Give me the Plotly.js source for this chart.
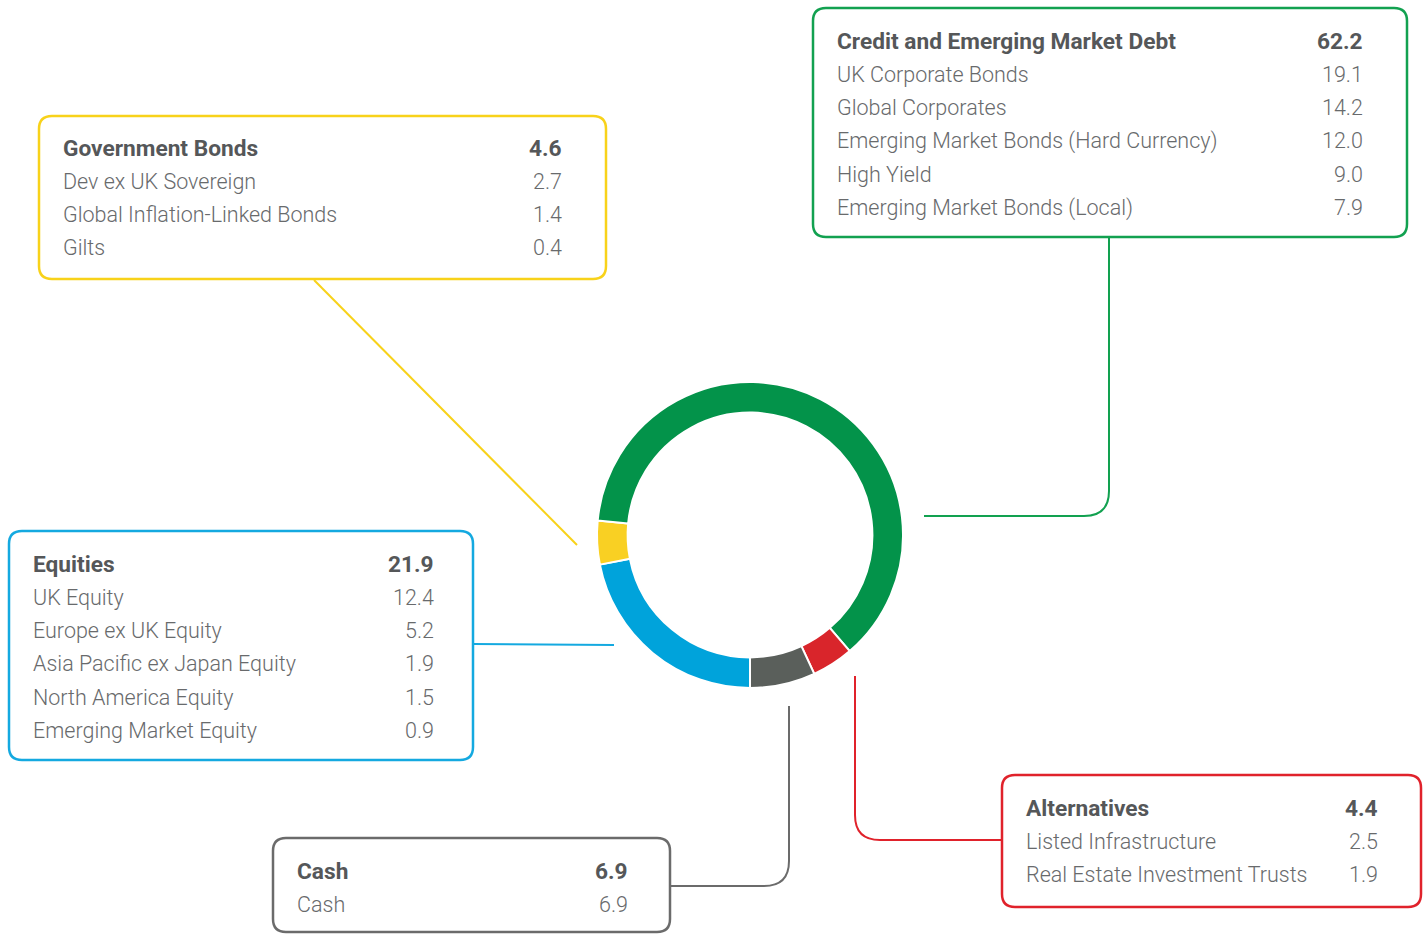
<!DOCTYPE html>
<html>
<head>
<meta charset="utf-8">
<script src="https://cdn.plot.ly/plotly-3.0.1.min.js"></script>
<style>html,body{margin:0;padding:0;background:#fff;}#chart{width:1423px;height:934px;}</style>
</head>
<body>
<div id="chart"></div>
<script>
// ---- Data ----
const groups = ["Equities", "Government Bonds", "Credit and Emerging Market Debt", "Alternatives", "Cash"];
const groupValues = [21.9, 4.6, 62.2, 4.4, 6.9];

const equitiesItems = ["UK Equity", "Europe ex UK Equity", "Asia Pacific ex Japan Equity", "North America Equity", "Emerging Market Equity"];
const equitiesValues = [12.4, 5.2, 1.9, 1.5, 0.9];

const govItems = ["Dev ex UK Sovereign", "Global Inflation-Linked Bonds", "Gilts"];
const govValues = [2.7, 1.4, 0.4];

const creditItems = ["UK Corporate Bonds", "Global Corporates", "Emerging Market Bonds (Hard Currency)", "High Yield", "Emerging Market Bonds (Local)"];
const creditValues = [19.1, 14.2, 12.0, 9.0, 7.9];

const altItems = ["Listed Infrastructure", "Real Estate Investment Trusts"];
const altValues = [2.5, 1.9];

const cashItems = ["Cash"];
const cashValues = [6.9];

// ---- Styles / layout ----
const colors = ["#00A3DB", "#F9D023", "#03934A", "#D9252B", "#5A5F5B"];
const borderColors = ["#14A9E0", "#F8D21A", "#12A150", "#E0222B", "#6B6B6B"];
const W = 1423, H = 934;

const boxes = [
  {items: equitiesItems, values: equitiesValues, box: [9, 531, 473, 760], tx: 33, vx: 433, y0: 564},
  {items: govItems, values: govValues, box: [39, 116, 606, 279], tx: 63, vx: 561, y0: 148},
  {items: creditItems, values: creditValues, box: [813, 8, 1407, 237], tx: 837, vx: 1362, y0: 41},
  {items: altItems, values: altValues, box: [1002, 775, 1421, 907], tx: 1026, vx: 1377, y0: 808},
  {items: cashItems, values: cashValues, box: [273, 838, 670, 932], tx: 297, vx: 627, y0: 871}
];
const rowStep = 33.3;
const pad = 2.5;

const connectors = [
  "M473,644 L614,645",
  "M314,280 L577,545",
  "M1109,237 L1109,491 Q1109,516 1084,516 L924,516",
  "M855,676 L855,815 Q855,840 880,840 L1002,840",
  "M789,706 L789,861 Q789,886 764,886 L670,886"
];

function rr(x0, y0, x1, y1, r) {
  return `M${x0 + r},${y0} L${x1 - r},${y0} Q${x1},${y0} ${x1},${y0 + r} L${x1},${y1 - r} Q${x1},${y1} ${x1 - r},${y1} L${x0 + r},${y1} Q${x0},${y1} ${x0},${y1 - r} L${x0},${y0 + r} Q${x0},${y0} ${x0 + r},${y0} Z`;
}

const shapes = [];
const annotations = [];
const FONT = "Roboto, 'Liberation Sans', sans-serif";
const headFont = {family: FONT, size: 22.7, color: "#555759", weight: 700};
const rowFont = {family: FONT, size: 21.5, color: "#686a6c", weight: 300};

boxes.forEach((b, i) => {
  const [x0, y0, x1, y1] = b.box;
  shapes.push({type: "path", xref: "x", yref: "y", path: rr(x0, y0, x1, y1, 13),
    line: {color: borderColors[i], width: 2.5}, fillcolor: "rgba(0,0,0,0)", layer: "above"});
  shapes.push({type: "path", xref: "x", yref: "y", path: connectors[i],
    line: {color: borderColors[i], width: 2}, layer: "below"});
  annotations.push({xref: "x", yref: "y", x: b.tx - pad, y: b.y0, text: groups[i], showarrow: false,
    xanchor: "left", yanchor: "middle", font: headFont});
  annotations.push({xref: "x", yref: "y", x: b.vx + pad, y: b.y0, text: groupValues[i].toFixed(1), showarrow: false,
    xanchor: "right", yanchor: "middle", font: headFont});
  b.items.forEach((it, k) => {
    const y = b.y0 + rowStep * (k + 1);
    annotations.push({xref: "x", yref: "y", x: b.tx - pad, y: y, text: it, showarrow: false,
      xanchor: "left", yanchor: "middle", font: rowFont});
    annotations.push({xref: "x", yref: "y", x: b.vx + pad, y: y, text: b.values[k].toFixed(1), showarrow: false,
      xanchor: "right", yanchor: "middle", font: rowFont});
  });
});

const cx = 750, cy = 535, R = 153;
const pie = {
  type: "pie",
  labels: groups,
  values: groupValues,
  hole: 0.80,
  sort: false,
  direction: "clockwise",
  rotation: 180,
  textinfo: "none",
  hoverinfo: "label+value",
  marker: {colors: colors, line: {color: "#ffffff", width: 2}},
  domain: {x: [(cx - R) / W, (cx + R) / W], y: [(H - cy - R) / H, (H - cy + R) / H]},
  showlegend: false
};

const layout = {
  width: W, height: H,
  margin: {l: 0, r: 0, t: 0, b: 0},
  paper_bgcolor: "#ffffff", plot_bgcolor: "rgba(0,0,0,0)",
  xaxis: {range: [0, W], visible: false, fixedrange: true},
  yaxis: {range: [H, 0], visible: false, fixedrange: true},
  shapes: shapes,
  annotations: annotations,
  showlegend: false
};

Plotly.newPlot("chart", [pie], layout, {displayModeBar: false, staticPlot: true});
</script>
</body>
</html>
